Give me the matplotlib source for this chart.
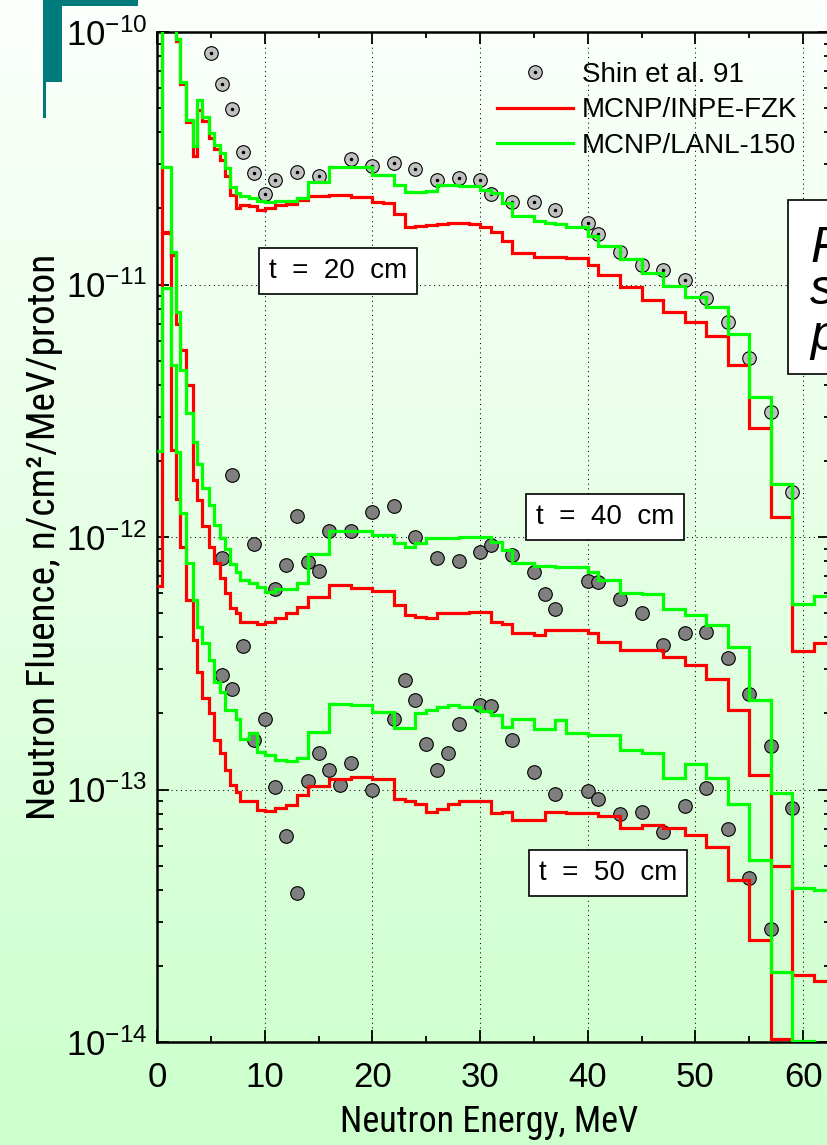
import numpy as np
import matplotlib
matplotlib.use("Agg")
import matplotlib.pyplot as plt
from matplotlib import font_manager
from matplotlib.patches import Rectangle
from matplotlib.lines import Line2D
from matplotlib.legend_handler import HandlerTuple
from matplotlib.ticker import MultipleLocator, FixedLocator, FuncFormatter, NullFormatter

# ---------------------------------------------------------------------------
# Data
# ---------------------------------------------------------------------------
# MCNP tally energy bin edges (MeV)
edges_low = [0, 0.45, 1.3, 1.75, 2.15, 2.7, 3.3, 3.7, 4.2, 4.8, 5.3, 5.85,
             6.3, 6.8, 7.35, 7.75, 8.5, 9.3]
edges = np.array(edges_low + list(range(10, 41)) + list(range(41, 64, 2)), float)

# MCNP/INPE-FZK, t = 20 cm  (n/cm^2/MeV/proton)
inpe_20 = np.array(
    [30, 20, 12, 9.2, 6.2, 4.4, 3.23, 4.9, 4.45, 3.8, 3.45, 3.1, 2.7, 2.26, 2.0, 2.07, 2.05, 1.97]
    + [2.0, 2.06, 2.08, 2.16, 2.24, 2.24, 2.26, 2.26, 2.23, 2.23, 2.13, 2.1, 1.9, 1.69, 1.7, 1.72,
       1.74, 1.75, 1.75, 1.73, 1.69, 1.62, 1.49, 1.33, 1.33, 1.29, 1.29, 1.28, 1.27, 1.27, 1.19]
    + [1.09, 0.975, 0.869, 0.78, 0.713, 0.625, 0.48, 0.27, 0.12, 0.0352, 0.0381]) * 1e-11

# MCNP/LANL-150, t = 20 cm
lanl_20 = np.array(
    [30, 20, 12, 9.4, 6.36, 4.49, 3.52, 5.38, 4.6, 3.97, 3.57, 3.31, 2.89, 2.44, 2.31, 2.25, 2.2, 2.15]
    + [2.13, 2.15, 2.15, 2.2, 2.55, 2.55, 2.93, 2.93, 2.93, 2.93, 2.72, 2.72, 2.48, 2.33, 2.33, 2.35,
       2.48, 2.48, 2.46, 2.46, 2.37, 2.3, 2.1, 1.86, 1.86, 1.78, 1.76, 1.74, 1.69, 1.69, 1.56]
    + [1.42, 1.26, 1.11, 0.986, 0.895, 0.817, 0.635, 0.359, 0.162, 0.0544, 0.0582]) * 1e-11

# MCNP/INPE-FZK, t = 40 cm
inpe_40 = np.array(
    [500, 16.2, 13.1, 7.0, 5.5, 4.0, 1.68, 1.4, 1.11, 0.914, 0.786, 0.686, 0.598, 0.521, 0.498,
     0.461, 0.461, 0.452]
    + [0.461, 0.476, 0.498, 0.529, 0.58, 0.58, 0.645, 0.645, 0.626, 0.626, 0.612, 0.612, 0.537,
       0.491, 0.483, 0.476, 0.498, 0.498, 0.498, 0.506, 0.506, 0.461, 0.452, 0.415, 0.415, 0.409,
       0.428, 0.428, 0.428, 0.428, 0.417]
    + [0.385, 0.356, 0.356, 0.335, 0.31, 0.275, 0.206, 0.114, 0.050, 0.0184, 0.0175]) * 1e-12

# MCNP/LANL-150, t = 40 cm
lanl_40 = np.array(
    [500, 29.3, 13.5, 7.8, 4.6, 3.09, 2.38, 1.95, 1.56, 1.34, 1.12, 0.987, 0.90, 0.785, 0.728,
     0.675, 0.66, 0.635]
    + [0.607, 0.62, 0.62, 0.66, 0.86, 0.86, 1.06, 1.06, 1.06, 1.06, 1.02, 1.02, 0.945, 0.915,
       0.945, 0.987, 0.987, 0.987, 1.0, 1.0, 1.0, 0.957, 0.887, 0.786, 0.786, 0.769, 0.769, 0.76,
       0.76, 0.76, 0.728]
    + [0.675, 0.601, 0.594, 0.517, 0.491, 0.448, 0.367, 0.226, 0.097, 0.0406, 0.040]) * 1e-12

# MCNP/INPE-FZK, t = 50 cm
inpe_50 = np.array(
    [6.4, 160, 22.1, 14.2, 9.14, 5.62, 3.9, 2.92, 2.3, 2.0, 1.57, 1.39, 1.19, 1.04, 0.98, 0.90,
     0.90, 0.83]
    + [0.822, 0.841, 0.867, 0.949, 1.03, 1.03, 1.1, 1.1, 1.12, 1.12, 1.1, 1.1, 0.921, 0.90, 0.875,
       0.815, 0.84, 0.875, 0.90, 0.90, 0.90, 0.804, 0.815, 0.756, 0.756, 0.756, 0.815, 0.815,
       0.81, 0.81, 0.804]
    + [0.784, 0.705, 0.722, 0.705, 0.659, 0.593, 0.437, 0.253, 0.103, 0.001, 0.001]) * 1e-13

# MCNP/LANL-150, t = 50 cm
lanl_50 = np.array(
    [22, 97, 48, 21.7, 12.4, 7.86, 5.62, 4.41, 3.8, 3.25, 2.67, 2.43, 2.06, 2.06, 1.91, 1.59,
     1.67, 1.41]
    + [1.37, 1.31, 1.3, 1.33, 1.69, 1.69, 2.19, 2.19, 2.16, 2.16, 2.02, 2.02, 1.76, 1.76, 2.0,
       2.06, 2.12, 2.16, 2.12, 2.12, 2.05, 1.97, 1.77, 1.91, 1.91, 1.73, 1.73, 1.88, 1.67, 1.67,
       1.64]
    + [1.64, 1.43, 1.4, 1.11, 1.26, 1.11, 0.875, 0.525, 0.189, 0.101, 0.001]) * 1e-13

# Shin et al. 1991 measurements
shin_20_e = [5, 6, 7, 8, 9, 10, 11, 13, 15, 18, 20, 22, 24, 26, 28, 30, 31, 33, 35, 37, 40, 41,
             43, 45, 47, 49, 51, 53, 55, 57, 59]
shin_20_v = np.array([8.24, 6.21, 4.95, 3.34, 2.77, 2.28, 2.59, 2.79, 2.7, 3.13, 2.95, 3.04, 2.86,
                      2.6, 2.65, 2.6, 2.28, 2.12, 2.12, 1.97, 1.76, 1.58, 1.34, 1.2, 1.14, 1.04,
                      0.887, 0.713, 0.51, 0.313, 0.151]) * 1e-11

shin_40_e = [6, 7, 9, 11, 12, 13, 14, 15, 16, 18, 20, 22, 24, 26, 28, 30, 31, 33, 35, 36, 37, 40,
             41, 43, 45, 47, 49, 51, 53, 55, 57, 59]
shin_40_v = np.array([0.823, 1.76, 0.937, 0.625, 0.774, 1.21, 0.793, 0.734, 1.06, 1.06, 1.26, 1.33,
                      1.0, 0.823, 0.80, 0.874, 0.929, 0.848, 0.728, 0.594, 0.517, 0.67, 0.664,
                      0.567, 0.498, 0.375, 0.417, 0.421, 0.332, 0.239, 0.149, 0.0845]) * 1e-12

shin_50_e = [6, 7, 8, 9, 10, 11, 12, 13, 14, 15, 16, 17, 18, 20, 22, 23, 24, 25, 26, 27, 28, 30,
             31, 33, 35, 37, 40, 41, 43, 45, 47, 49, 51, 53, 55, 57]
shin_50_v = np.array([2.84, 2.51, 3.7, 1.57, 1.9, 1.02, 0.655, 0.389, 1.08, 1.4, 1.19, 1.04, 1.27,
                      1.0, 1.91, 2.71, 2.27, 1.52, 1.2, 1.4, 1.82, 2.16, 2.14, 1.57, 1.17, 0.964,
                      0.984, 0.921, 0.798, 0.811, 0.676, 0.859, 1.01, 0.70, 0.447, 0.279]) * 1e-13

thickness_labels = ["t  =  20  cm", "t  =  40  cm", "t  =  50  cm"]
thickness_pos = [(16.8, 1.13e-11), (41.6, 1.2e-12), (41.9, 4.66e-14)]
legend_labels = ["Shin et al. 91", "MCNP/INPE-FZK", "MCNP/LANL-150"]
decades = [-14, -13, -12, -11, -10]

# ---------------------------------------------------------------------------
# Style
# ---------------------------------------------------------------------------
names = {f.name for f in font_manager.fontManager.ttflist}
label_family = "Liberation Sans"
xlabel_size, ylabel_size = 22, 24
for cand in ("Liberation Sans Narrow", "Arial Narrow", "Roboto Condensed"):
    if cand in names:
        label_family = cand
        xlabel_size, ylabel_size = 26, 28.4
        break

plt.rcParams["font.family"] = ["Liberation Sans", "DejaVu Sans"]
plt.rcParams["mathtext.fontset"] = "custom"
plt.rcParams["mathtext.rm"] = "Liberation Sans"
plt.rcParams["mathtext.it"] = "Liberation Sans:italic"
plt.rcParams["mathtext.bf"] = "Liberation Sans:bold"

W, H = 828, 1145
fig = plt.figure(figsize=(W / 100, H / 100), dpi=100)

# vertical white-to-green backdrop
bg = fig.add_axes([0, 0, 1, 1], zorder=-10)
top = np.array([252, 255, 252]) / 255
bot = np.array([204, 255, 204]) / 255
t = np.linspace(0, 1, 400)[:, None, None]
grad = top * (1 - t) + bot * t
bg.imshow(grad, aspect="auto", extent=[0, 1, 0, 1], interpolation="bilinear")
bg.axis("off")

# slide corner ornament
teal = "#007b7b"
def px_rect(x0, y0, x1, y1, **kw):
    return Rectangle((x0 / W, 1 - y1 / H), (x1 - x0) / W, (y1 - y0) / H,
                     transform=fig.transFigure, **kw)
fig.add_artist(px_rect(43, 0, 138, 6, color=teal, lw=0))
fig.add_artist(px_rect(43, 0, 62, 82, color=teal, lw=0))
fig.add_artist(px_rect(43, 82, 46, 118, color=teal, lw=0))

ax = fig.add_axes([157 / W, (H - 1042) / H, (830 - 157) / W, (1042 - 32) / H], zorder=1)
ax.patch.set_alpha(0)
ax.set_yscale("log")
ax.set_xlim(0, 62.5)
ax.set_ylim(1e-14, 1e-10)

RED, GREEN = "#ff0000", "#00ff00"
lw = 2.3

# measured points
pt_kw = dict(ls="none", marker="o", ms=9.8, mec="black", mew=0.8, zorder=2)
h_shin, = ax.plot(shin_20_e, shin_20_v, mfc="#c0c0c0", **pt_kw)
h_dot, = ax.plot(shin_20_e, shin_20_v, ls="none", marker="o", ms=1.5, color="black", zorder=2.1)
ax.plot(shin_40_e, shin_40_v, mfc="#7f7f7f", **pt_kw)
ax.plot(shin_50_e, shin_50_v, mfc="#7f7f7f", **pt_kw)

# calculated spectra
for vals in (inpe_20, inpe_40, inpe_50):
    ax.stairs(vals, edges, baseline=None, color=RED, lw=lw, zorder=3)
for vals in (lanl_20, lanl_40, lanl_50):
    ax.stairs(vals, edges, baseline=None, color=GREEN, lw=lw, zorder=4)

# axes cosmetics
for sp in ax.spines.values():
    sp.set_linewidth(1.8)
ax.xaxis.set_major_locator(MultipleLocator(10))
ax.xaxis.set_minor_locator(MultipleLocator(5))
ax.yaxis.set_major_locator(FixedLocator([10.0 ** d for d in decades]))
ax.yaxis.set_minor_locator(FixedLocator(
    [m * 10.0 ** d for d in decades[:-1] for m in range(2, 10)]))
ax.yaxis.set_minor_formatter(NullFormatter())
ax.yaxis.set_major_formatter(FuncFormatter(
    lambda v, p: r"$\mathregular{10^{%d}}$" % int(round(np.log10(v)))))
ax.tick_params(which="both", direction="in", top=True, right=True, width=1.3, colors="black")
ax.tick_params(which="major", length=8.5)
ax.tick_params(which="minor", length=4.3)
ax.tick_params(axis="y", which="major", labelsize=25, pad=7)
ax.tick_params(axis="x", which="major", labelsize=25, pad=14)
ax.grid(True, which="major", color="black", lw=0.75, ls=(0, (1, 3.5)))

ax.set_xlabel("Neutron Energy, MeV", family=label_family, fontsize=xlabel_size, va="center")
ax.xaxis.set_label_coords((489 - 157) / 673, -(1122 - 1042) / 1010)
ax.set_ylabel("Neutron Fluence, n/cm²/MeV/proton", family=label_family,
              fontsize=ylabel_size, va="center")
ax.yaxis.set_label_coords((44 - 157) / 673, 0.5)

# thickness tags
for txt, (xe, yv) in zip(thickness_labels, thickness_pos):
    ax.text(xe, yv, txt, ha="center", va="center", fontsize=20, zorder=6,
            bbox=dict(boxstyle="square,pad=0.36", fc="white", ec="black", lw=1.2))

# legend
red_h = Line2D([], [], color=RED, lw=lw)
green_h = Line2D([], [], color=GREEN, lw=lw)
ax.legend([(h_shin, h_dot), red_h, green_h], legend_labels,
          handler_map={tuple: HandlerTuple(ndivide=1, pad=0)},
          loc="upper left", bbox_to_anchor=((497 - 157) / 673, (1042 - 62) / 1010),
          frameon=False, fontsize=20, numpoints=1, handlelength=2.75,
          handletextpad=0.3, labelspacing=0.34, borderpad=0, borderaxespad=0)

# side caption panel running off the slide
fig.add_artist(px_rect(788, 200, 860, 374, fc="white", ec="black", lw=1.2, zorder=5))
for letter, yb in zip(["F", "s", "p"], [262, 304, 350]):
    fig.text(810 / W, 1 - yb / H, letter, fontsize=36, style="italic",
             va="baseline", ha="left", zorder=6)

fig.savefig("out.png", dpi=100)
